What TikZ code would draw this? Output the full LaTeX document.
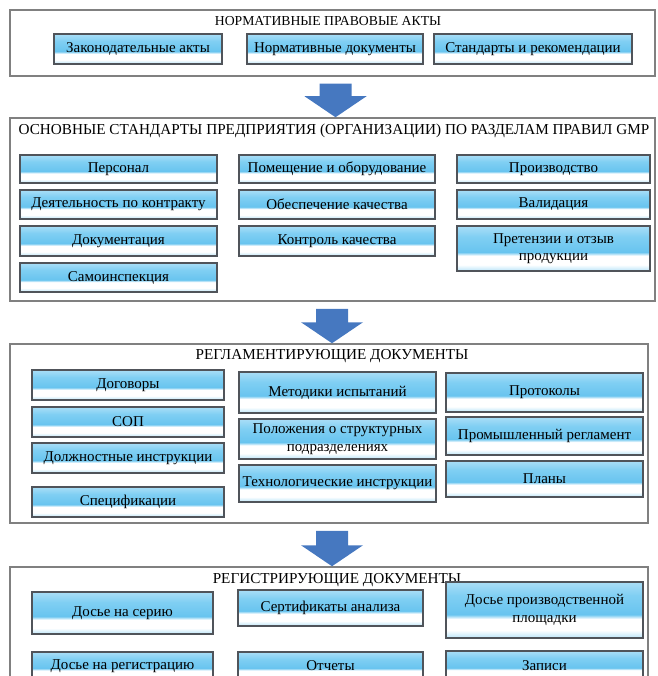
\documentclass[tikz,border=0pt]{standalone}
\usepackage{fontspec}
\setmainfont{Liberation Serif}
\usepackage{tikz}
\usetikzlibrary{calc}
\definecolor{framegray}{RGB}{128,128,128}
\definecolor{boxgray}{RGB}{80,84,90}
\definecolor{arrowblue}{RGB}{70,120,192}
\definecolor{glosstop}{RGB}{170,222,247}
\definecolor{glossmid}{RGB}{104,196,239}
\definecolor{glossmidb}{RGB}{128,207,243}
\definecolor{glossbot}{RGB}{186,229,249}
\pgfdeclareverticalshading{glossy}{100bp}{color(0bp)=(glossbot); color(25bp)=(glossbot); color(32bp)=(white); color(42bp)=(white); color(46bp)=(glossmid); color(63bp)=(glossmidb); color(75bp)=(glosstop); color(100bp)=(glosstop)}
\tikzstyle{frame}=[draw=framegray,line width=1.5pt,inner sep=0pt]
\tikzstyle{docbox}=[draw=boxgray,line width=1.2pt,shading=glossy,align=center,inner sep=0pt,font=\fontsize{15}{17.5}\selectfont]
\tikzstyle{heading}=[inner sep=0pt,font=\fontsize{15.2}{17}\selectfont]
\tikzstyle{flowarrow}=[fill=arrowblue]

\begin{document}
\begin{tikzpicture}[x=1pt,y=-1pt]
    \useasboundingbox (0,0) rectangle (657,676);
    \clip (0,0) rectangle (657,676);
    % First we draw the four frames
    \foreach \pos/\w/\h/\name in {{(332.5,43)/645/66/nra}, {(332.5,209.5)/645/183/gmp}, {(329,433.5)/638/179/reg}, {(329,633.5)/638/133/rec}}
        \node[frame,minimum width=\w,minimum height=\h] (\name) at \pos {};
    % Headings of the frames
    \node[heading,font=\fontsize{13.7}{16}\selectfont] (nrahead) at (328,21) {НОРМАТИВНЫЕ ПРАВОВЫЕ АКТЫ};
    \foreach \pos/\name/\txt in {{(334,131)/gmphead/ОСНОВНЫЕ СТАНДАРТЫ ПРЕДПРИЯТИЯ (ОРГАНИЗАЦИИ) ПО РАЗДЕЛАМ ПРАВИЛ GMP}, {(332,356)/reghead/РЕГЛАМЕНТИРУЮЩИЕ ДОКУМЕНТЫ}, {(337,580)/rechead/РЕГИСТРИРУЮЩИЕ ДОКУМЕНТЫ}}
        \node[heading] (\name) at \pos {\txt};
    % Boxes of the first frame
    \foreach \pos/\w/\h/\name/\txt in {{(138,49)/168/30/zak/Законодательные акты}, {(335,49)/176/30/normdoc/Нормативные документы}, {(533,49)/198/30/stand/Стандарты и рекомендации}}
        \node[docbox,minimum width=\w,minimum height=\h] (\name) at \pos {\txt};
    % Boxes of the GMP frame
    \foreach \pos/\w/\h/\name/\txt in {{(118.5,169)/197/28/pers/Персонал}, {(118.5,204.5)/197/29/kontrakt/Деятельность по контракту}, {(118.5,241)/197/30/dokum/Документация}, {(118.5,277.5)/197/29/samo/Самоинспекция},
        {(337,169)/196/28/pomesh/Помещение и оборудование}, {(337,204.5)/196/29/obesp/Обеспечение качества}, {(337,241)/196/30/kontrol/Контроль качества},
        {(553.5,169)/193/28/proizv/Производство}, {(553.5,204.5)/193/29/valid/Валидация}, {(553.5,248.5)/193/45/pretenz/{Претензии и отзыв\\продукции}}}
        \node[docbox,minimum width=\w,minimum height=\h] (\name) at \pos {\txt};
    % Boxes of the regulating documents
    \foreach \pos/\w/\h/\name/\txt in {{(128,385)/192/30/dogov/Договоры}, {(128,422)/192/30/sop/СОП}, {(128,458)/192/30/dolzh/Должностные инструкции}, {(128,502)/192/30/specif/Спецификации},
        {(337.5,392.5)/197/41/metod/Методики испытаний}, {(337.5,439)/197/40/polozh/{Положения о структурных\\подразделениях}}, {(337.5,483.5)/197/37/tehn/Технологические инструкции},
        {(544.5,392.5)/197/39/protok/Протоколы}, {(544.5,436)/197/38/promreg/Промышленный регламент}, {(544.5,479)/197/36/plany/Планы}}
        \node[docbox,minimum width=\w,minimum height=\h] (\name) at \pos {\txt};
    % Boxes of the recording documents
    \foreach \pos/\w/\h/\name/\txt in {{(122.5,613)/181/42/dosser/Досье на серию}, {(330.5,608)/185/36/sert/Сертификаты анализа}, {(544.5,610)/197/56/dosplosh/{Досье производственной\\площадки}},
        {(122.5,666)/181/28/dosreg/Досье на регистрацию}, {(330.5,666)/185/28/otch/Отчеты}, {(544.5,665.5)/197/29/zap/Записи}}
        \node[docbox,minimum width=\w,minimum height=\h] (\name) at \pos {\txt};
    % Block arrows from frame to frame
    \foreach \source/\dest in {nra/gmp, gmp/reg, reg/rec}
        \fill[flowarrow] ($(\dest.north |- \source.south)+(-13,7)$) -- ($(\dest.north |- \source.south)+(19,7)$) -- ($(\dest.north)+(19,-21)$) -- ($(\dest.north)+(34,-21)$) -- ($(\dest.north)+(3,0)$) -- ($(\dest.north)+(-28,-21)$) -- ($(\dest.north)+(-13,-21)$) -- cycle;
\end{tikzpicture}
\end{document}
